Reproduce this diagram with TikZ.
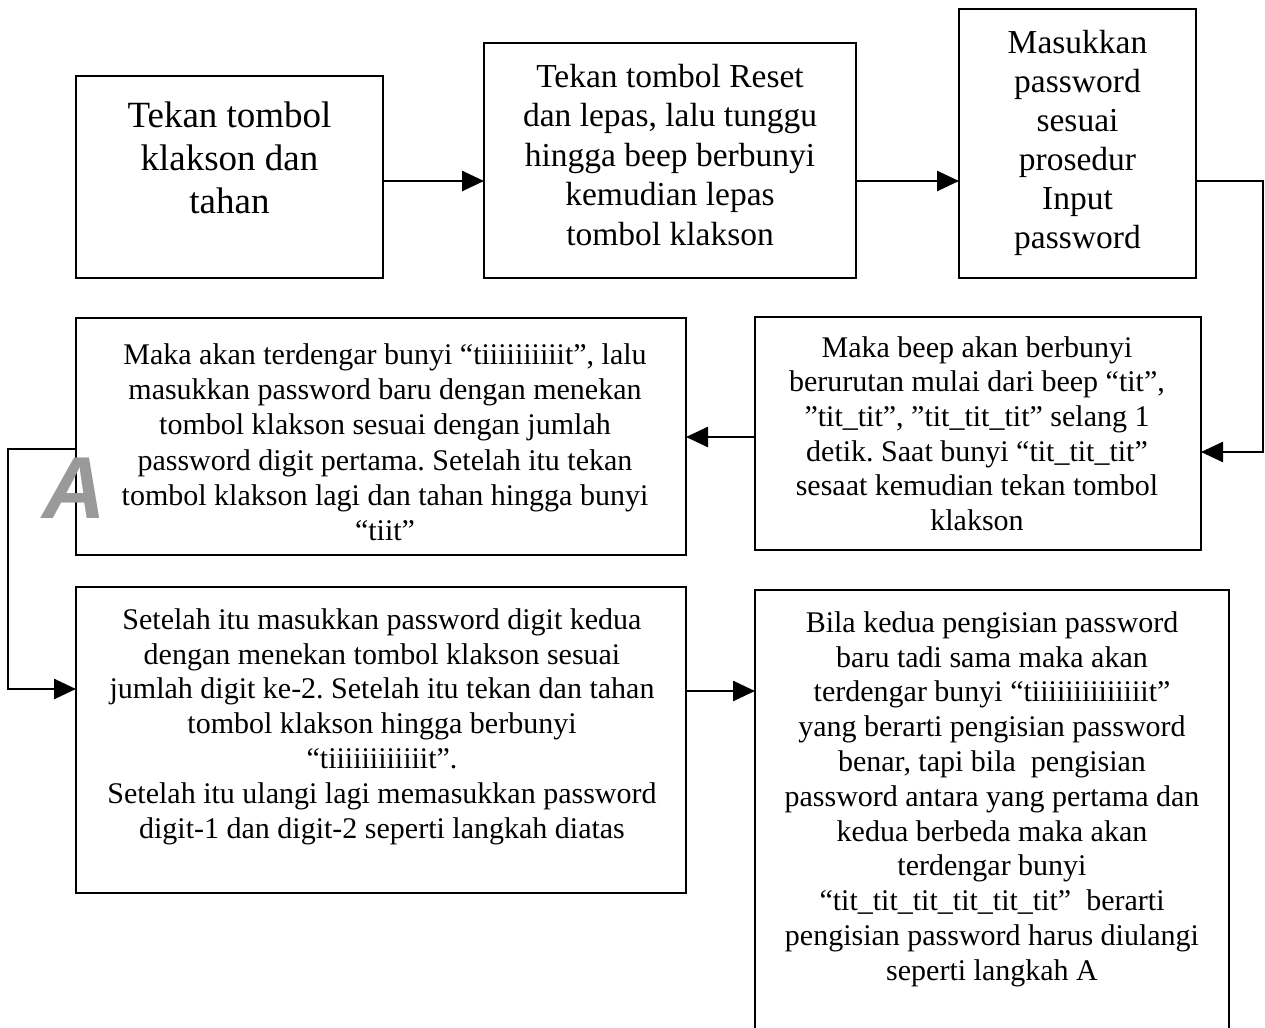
\documentclass[tikz,border=0pt]{standalone}
\usepackage{fontspec}
\setmainfont{Liberation Serif}
\newfontfamily\Afont{Liberation Sans}
\usetikzlibrary{arrows.meta}
\definecolor{agray}{RGB}{153,153,153}
\frenchspacing
\begin{document}
\begin{tikzpicture}[x=1pt,y=-1pt,
  box/.style={draw, line width=2.6pt, inner sep=0pt, outer sep=0pt},
  txt/.style={align=center, inner sep=0pt, anchor=north},
  arr/.style={line width=2.6pt, -{Triangle[length=22pt,width=20pt]}}
]
\useasboundingbox (0,0) rectangle (1265,1027);
\fill[white] (0,0) rectangle (1265,1027);

% boxes
\node[box, minimum width=307pt, minimum height=202pt] (b1) at (229.5,177) {};
\node[box, minimum width=372pt, minimum height=235pt] (b2) at (670,160.5) {};
\node[box, minimum width=237pt, minimum height=269pt] (b3) at (1077.5,143.5) {};
\node[box, minimum width=446pt, minimum height=233pt] (b5) at (978,433.5) {};
\node[box, minimum width=610pt, minimum height=237pt] (b4) at (381,436.5) {};
\node[box, minimum width=610pt, minimum height=306pt] (b6) at (381,740) {};
\begin{scope}
\clip (0,0) rectangle (1265,1027);
\node[box, minimum width=474pt, minimum height=455pt] (b7) at (992,817.5) {};
\end{scope}

% texts
\node[txt, font={\fontsize{37}{43}\selectfont}] (t1) at (229.5,{127-0.7*43})
 {\strut Tekan tombol\\klakson dan\\tahan};
\node[txt, font={\fontsize{33.5}{39.5}\selectfont}] (t2) at (670,{87-0.7*39.5})
 {\strut Tekan tombol Reset\\dan lepas, lalu tunggu\\hingga beep berbunyi\\kemudian lepas\\tombol klakson};
\node[txt, font={\fontsize{33.5}{39}\selectfont}] (t3) at (1077.5,{53-0.7*39})
 {\strut Masukkan\\password\\sesuai\\prosedur\\Input\\password};
\node[txt, font={\fontsize{30}{34.6}\selectfont}] (t5) at (977,{357-0.7*34.6})
 {\strut Maka beep akan berbunyi\\berurutan mulai dari beep “tit”,\\”tit\_tit”, ”tit\_tit\_tit” selang 1\\detik. Saat bunyi “tit\_tit\_tit”\\sesaat kemudian tekan tombol\\klakson};
\node[txt, font={\fontsize{30}{35.3}\selectfont}] (t4) at (385,{364-0.7*35.3})
 {\strut Maka akan terdengar bunyi “tiiiiiiiiiit”, lalu\\masukkan password baru dengan menekan\\tombol klakson sesuai dengan jumlah\\password digit pertama. Setelah itu tekan\\tombol klakson lagi dan tahan hingga bunyi\\“tiit”};
\node[txt, font={\fontsize{30}{34.8}\selectfont}] (t6) at (382,{629-0.7*34.8})
 {\strut Setelah itu masukkan password digit kedua\\dengan menekan tombol klakson sesuai\\jumlah digit ke-2. Setelah itu tekan dan tahan\\tombol klakson hingga berbunyi\\“tiiiiiiiiiiiit”.\\Setelah itu ulangi lagi memasukkan password\\digit-1 dan digit-2 seperti langkah diatas};
\node[txt, font={\fontsize{30}{34.8}\selectfont}] (t7) at (992,{632-0.7*34.8})
 {\strut Bila kedua pengisian password\\baru tadi sama maka akan\\terdengar bunyi “tiiiiiiiiiiiiiit”\\yang berarti pengisian password\\benar, tapi bila\ \ pengisian\\password antara yang pertama dan\\kedua berbeda maka akan\\terdengar bunyi\\“tit\_tit\_tit\_tit\_tit\_tit”\ \ berarti\\pengisian password harus diulangi\\seperti langkah A};

% connector helper coordinates
\coordinate (r1) at (0,181);
\coordinate (k1) at (1263,452);
\coordinate (r2) at (0,437);
\coordinate (k2) at (8,449);
\coordinate (r3) at (0,689);
\coordinate (r4) at (0,691);

% connectors
\draw[arr] (b1.east |- r1) -- (b2.west |- r1);
\draw[arr] (b2.east |- r1) -- (b3.west |- r1);
\draw[arr] (b3.east |- r1) -| (k1) -- (b5.east |- k1);
\draw[arr] (b5.west |- r2) -- (b4.east |- r2);
\draw[arr] (b4.west |- k2) -- (k2) |- (b6.west |- r3);
\draw[arr] (b6.east |- r4) -- (b7.west |- r4);

% label A
\node[inner sep=0pt, anchor=base, text=agray,
  font={\Afont\bfseries\itshape\fontsize{88}{88}\selectfont}] (lblA) at (74,518) {A};
\end{tikzpicture}
\end{document}
